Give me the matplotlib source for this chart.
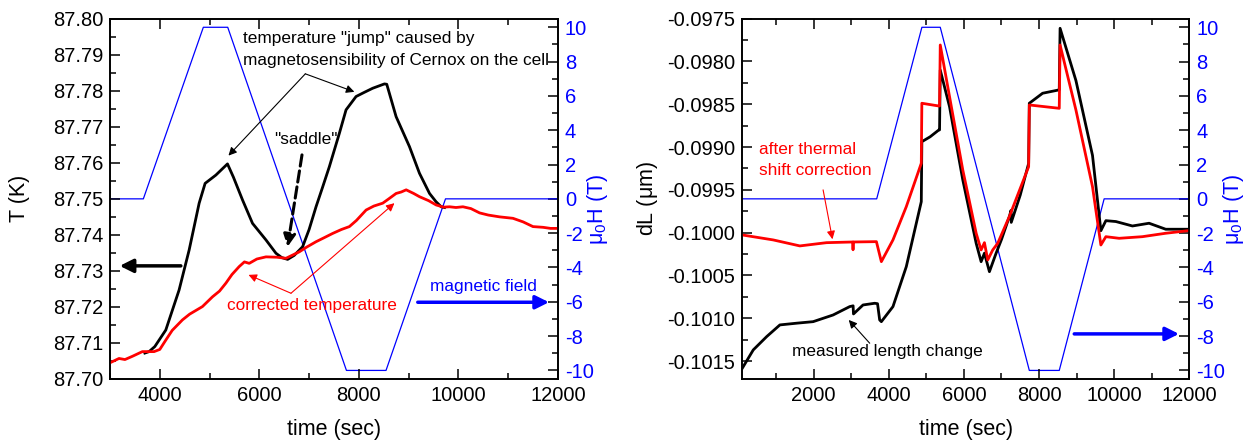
import matplotlib
matplotlib.use('Agg')
import matplotlib.pyplot as plt
from matplotlib.ticker import MultipleLocator, FormatStrFormatter

plt.rcParams['font.family'] = ['Liberation Sans', 'DejaVu Sans']
plt.rcParams['mathtext.fontset'] = 'custom'
plt.rcParams['mathtext.rm'] = 'Liberation Sans'
plt.rcParams['mathtext.it'] = 'Liberation Sans:italic'
plt.rcParams['axes.unicode_minus'] = False

# ---- left panel: temperature vs time ----
field_t_left = [3000, 3670, 4875, 5365, 7750, 8545, 9740, 12000]
field_B_left = [0, 0, 10, 10, -10, -10, 0, 0]

t_raw = [3700, 3785, 3900, 4121, 4388, 4590, 4791, 4911, 5127, 5360, 5480, 5662,
         5863, 6133, 6334, 6450, 6568, 6700, 6869, 7000, 7139, 7270, 7406, 7608,
         7742, 7943, 8100, 8278, 8513, 8560, 8748, 9016, 9217, 9419, 9550, 9654, 9720]
T_raw = [87.7072, 87.7076, 87.7090, 87.7136, 87.7247, 87.7358, 87.7488, 87.7543,
         87.7566, 87.7597, 87.7560, 87.7497, 87.7432, 87.7386, 87.7349, 87.7337,
         87.7332, 87.7343, 87.7367, 87.7415, 87.7478, 87.7532, 87.7589, 87.7682,
         87.7747, 87.7784, 87.7795, 87.7807, 87.7819, 87.7818, 87.7728, 87.7645,
         87.7571, 87.7515, 87.7492, 87.7478, 87.7476]

t_corr = [3000, 3181, 3300, 3450, 3650, 3885, 4000, 4121, 4250, 4455, 4600, 4857,
          5058, 5200, 5328, 5450, 5595, 5700, 5797, 5950, 6133, 6350, 6535, 6803,
          6950, 7139, 7300, 7473, 7650, 7809, 7950, 8145, 8300, 8479, 8600, 8748,
          8850, 8950, 9100, 9217, 9400, 9553, 9700, 9821, 9950, 10090, 10250,
          10425, 10600, 10827, 11095, 11300, 11497, 11700, 11850, 12000]
T_corr = [87.7045, 87.7057, 87.7054, 87.7063, 87.7076, 87.7076, 87.7082, 87.7108,
          87.7135, 87.7164, 87.7180, 87.7201, 87.7228, 87.7244, 87.7266, 87.7290,
          87.7312, 87.7325, 87.7321, 87.7333, 87.7339, 87.7338, 87.7335, 87.7353,
          87.7366, 87.7381, 87.7392, 87.7404, 87.7415, 87.7423, 87.7440, 87.7469,
          87.7480, 87.7488, 87.7500, 87.7515, 87.7519, 87.7525, 87.7515, 87.7506,
          87.7495, 87.7483, 87.7477, 87.7478, 87.7476, 87.7478, 87.7473, 87.7461,
          87.7455, 87.7450, 87.7446, 87.7436, 87.7423, 87.7421, 87.7418, 87.7418]

# ---- right panel: length change vs time ----
field_t_right = [100, 3678, 4881, 5370, 7741, 8538, 9733, 12000]
field_B_right = [0, 0, 10, 10, -10, -10, 0, 0]

t_meas = [100, 392, 748, 1101, 1545, 1986, 2517, 2960, 3050, 3060, 3314, 3625,
          3700, 3757, 3802, 4111, 4466, 4865, 4880, 5100, 5332, 5351, 5370, 5617,
          5970, 6326, 6458, 6546, 6679, 6856, 7000, 7211, 7254, 7260, 7500, 7723,
          7741, 8095, 8520, 8538, 8560, 8982, 9423, 9646, 9779, 10044, 10486,
          10929, 11372, 11973]
dL_meas = [-0.101584, -0.101370, -0.101215, -0.101078, -0.101058, -0.101040,
           -0.100962, -0.100864, -0.100855, -0.100950, -0.100845, -0.100825,
           -0.100830, -0.101020, -0.101040, -0.100864, -0.100397, -0.099638,
           -0.098937, -0.098880, -0.098800, -0.098800, -0.098100, -0.098528,
           -0.099384, -0.100124, -0.100339, -0.100240, -0.100456, -0.100241,
           -0.100080, -0.099810, -0.099740, -0.099880, -0.099560, -0.099190,
           -0.098488, -0.098371, -0.098333, -0.098330, -0.097612, -0.098223,
           -0.099097, -0.099977, -0.099860, -0.099870, -0.099922, -0.099890,
           -0.099960, -0.099960]

t_after = [100, 923, 1632, 2342, 3040, 3048, 3056, 3670, 3802, 4111, 4466, 4865,
           4880, 5332, 5351, 5370, 5617, 5970, 6326, 6458, 6546, 6634, 6767, 6900,
           7211, 7723, 7741, 8538, 8560, 8982, 9423, 9646, 9779, 10132, 10751,
           11372, 11973]
dL_after = [-0.100027, -0.100085, -0.100155, -0.100117, -0.100109, -0.100200,
            -0.100109, -0.100105, -0.100339, -0.100085, -0.099696, -0.099189,
            -0.098488, -0.098520, -0.098520, -0.097807, -0.098411, -0.099268,
            -0.100007, -0.100202, -0.100117, -0.100319, -0.100202, -0.100124,
            -0.099810, -0.099229, -0.098508, -0.098547, -0.097807, -0.098567,
            -0.099463, -0.100144, -0.100047, -0.100066, -0.100047, -0.100007,
            -0.099977]

FS = 14.5
BLUE = '#0000ff'
RED = '#ff0000'

fig = plt.figure(figsize=(12.5, 4.46), dpi=100)
bottom = 1 - 379 / 446
height = 360.3 / 446
ax1 = fig.add_axes([110 / 1250, bottom, 448 / 1250, height])
ax2 = fig.add_axes([742.3 / 1250, bottom, 447 / 1250, height])


def style_axes(ax, tw):
    for a in (ax, tw):
        for s in a.spines.values():
            s.set_linewidth(1.2)
    ax.tick_params(which='both', direction='in', top=True, right=False,
                   labelsize=FS, width=1.1, pad=5)
    ax.tick_params(which='major', length=7)
    ax.tick_params(which='minor', length=4)
    tw.tick_params(which='both', direction='in', labelsize=FS, width=1.1,
                   labelcolor=BLUE, pad=5)
    tw.tick_params(which='major', length=7)
    tw.tick_params(which='minor', length=4)
    tw.set_ylim(-10.5, 10.5)
    tw.yaxis.set_major_locator(MultipleLocator(2))
    tw.yaxis.set_minor_locator(MultipleLocator(1))
    tw.set_ylabel(r'$\mathregular{\mu_0}$H (T)', color=BLUE, fontsize=FS + 1,
                  rotation=90, va='center')
    ax.xaxis.set_major_locator(MultipleLocator(2000))
    ax.xaxis.set_minor_locator(MultipleLocator(1000))
    ax.set_xlabel('time (sec)', fontsize=FS + 1)
    ax.xaxis.set_label_coords(0.5, -0.112)
    ax.set_zorder(tw.get_zorder() + 1)
    ax.patch.set_visible(False)


# left panel
tw1 = ax1.twinx()
tw1.plot(field_t_left, field_B_left, color=BLUE, lw=0.9)
ax1.plot(t_raw, T_raw, color='black', lw=2.0)
ax1.plot(t_corr, T_corr, color=RED, lw=2.0)
ax1.set_xlim(3000, 12000)
ax1.set_ylim(87.70, 87.80)
ax1.yaxis.set_major_locator(MultipleLocator(0.01))
ax1.yaxis.set_minor_locator(MultipleLocator(0.005))
ax1.yaxis.set_major_formatter(FormatStrFormatter('%.2f'))
ax1.set_ylabel('T (K)', fontsize=FS + 1, va='center')
style_axes(ax1, tw1)
ax1.yaxis.set_label_coords(-0.201, 0.5)
tw1.yaxis.set_label_coords(1.089, 0.47)

ann = dict(fontsize=12.4)
ax1.text(5676, 87.7944, 'temperature "jump" caused by', va='center', **ann)
ax1.text(5676, 87.7885, 'magnetosensibility of Cernox on the cell', va='center', **ann)
for tip in [(5380, 87.7620), (7909, 87.7797)]:
    ax1.annotate('', xy=tip, xytext=(6924, 87.7847),
                 arrowprops=dict(arrowstyle='-|>', color='black', lw=0.8,
                                 mutation_scale=12, shrinkA=0, shrinkB=0))
ax1.text(6934, 87.7666, '"saddle"', ha='center', va='center', **ann)
ax1.annotate('', xy=(6567, 87.7367), xytext=(6857, 87.7622),
             arrowprops=dict(arrowstyle='-|>', color='black', lw=2.2, ls='--',
                             mutation_scale=18, shrinkA=0, shrinkB=0))
ax1.annotate('', xy=(3195, 87.7314), xytext=(4423, 87.7314),
             arrowprops=dict(arrowstyle='-|>', color='black', lw=2.5,
                             mutation_scale=20, shrinkA=0, shrinkB=0))
ax1.text(5348, 87.7205, 'corrected temperature', color=RED, va='center', **ann)
for tip in [(5783, 87.7289), (8714, 87.7488)]:
    ax1.annotate('', xy=tip, xytext=(6636, 87.7238),
                 arrowprops=dict(arrowstyle='-|>', color=RED, lw=0.8,
                                 mutation_scale=12, shrinkA=0, shrinkB=0))
ax1.text(9419, 87.7257, 'magnetic field', color=BLUE, va='center', **ann)
ax1.annotate('', xy=(11819, 87.7213), xytext=(9183, 87.7213),
             arrowprops=dict(arrowstyle='-|>', color=BLUE, lw=2.5,
                             mutation_scale=20, shrinkA=0, shrinkB=0))

# right panel
tw2 = ax2.twinx()
tw2.plot(field_t_right, field_B_right, color=BLUE, lw=0.9)
ax2.plot(t_meas, dL_meas, color='black', lw=2.0)
ax2.plot(t_after, dL_after, color=RED, lw=2.0)
ax2.set_xlim(100, 12000)
ax2.set_ylim(-0.10171, -0.0975)
ax2.yaxis.set_major_locator(MultipleLocator(0.0005))
ax2.yaxis.set_minor_locator(MultipleLocator(0.00025))
ax2.yaxis.set_major_formatter(FormatStrFormatter('%.4f'))
ax2.set_ylabel(r'dL ($\mathregular{\mu}$m)', fontsize=FS + 1, va='center')
style_axes(ax2, tw2)
ax2.yaxis.set_label_coords(-0.211, 0.5)
tw2.yaxis.set_label_coords(1.098, 0.47)

ax2.text(552, -0.099026, 'after thermal', color=RED, va='center', **ann)
ax2.text(552, -0.099276, 'shift correction', color=RED, va='center', **ann)
ax2.annotate('', xy=(2501, -0.100077), xytext=(2251, -0.09950),
             arrowprops=dict(arrowstyle='-|>', color=RED, lw=0.8,
                             mutation_scale=12, shrinkA=0, shrinkB=0))
ax2.text(1412, -0.10139, 'measured length change', color='black', va='center', **ann)
ax2.annotate('', xy=(2934, -0.10102), xytext=(3492, -0.101292),
             arrowprops=dict(arrowstyle='-|>', color='black', lw=0.8,
                             mutation_scale=12, shrinkA=0, shrinkB=0))
ax2.annotate('', xy=(11726, -0.101183), xytext=(8937, -0.101183),
             arrowprops=dict(arrowstyle='-|>', color=BLUE, lw=2.5,
                             mutation_scale=20, shrinkA=0, shrinkB=0))

fig.savefig('out.png', dpi=100)
